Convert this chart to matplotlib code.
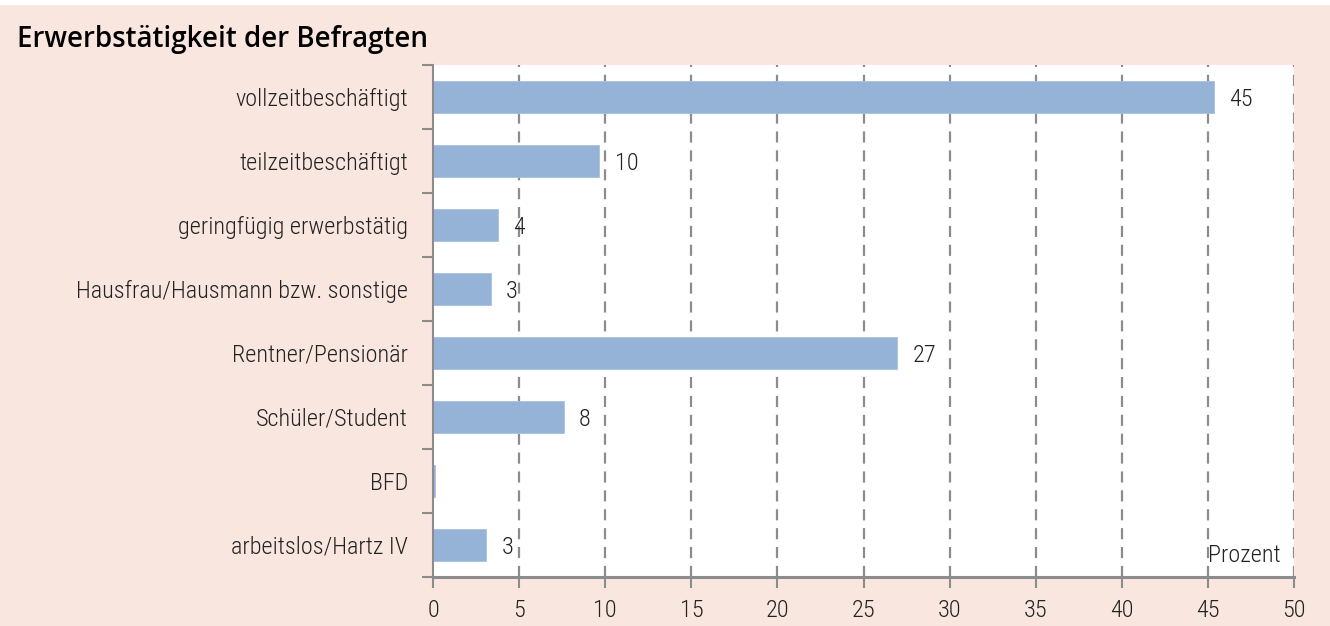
import matplotlib
matplotlib.use('Agg')
import matplotlib.pyplot as plt
from matplotlib import font_manager
from matplotlib.ticker import MultipleLocator, FixedLocator

# Daten
kategorien = ['vollzeitbeschäftigt', 'teilzeitbeschäftigt', 'geringfügig erwerbstätig',
              'Hausfrau/Hausmann bzw. sonstige', 'Rentner/Pensionär', 'Schüler/Student',
              'BFD', 'arbeitslos/Hartz IV']
werte = [45.35, 9.65, 3.75, 3.35, 26.95, 7.6, 0.12, 3.1]
beschriftung = ['45', '10', '4', '3', '27', '8', '', '3']

rosa = '#F9E7DF'
balken = '#95B3D7'
grau = '#8C8C8C'
gr = 17.5  # Schriftgroesse

# schmale Schrift suchen, falls vorhanden
vorhanden = {f.name for f in font_manager.fontManager.ttflist}
schmal = [n for n in ['Liberation Sans Narrow', 'DejaVu Sans Condensed', 'Roboto Condensed',
                      'Open Sans Condensed', 'Noto Sans Condensed'] if n in vorhanden]
schrift = schmal + ['Roboto', 'DejaVu Sans']

fig = plt.figure(figsize=(13.3, 6.26), dpi=100, facecolor=rosa)
fig.patches.append(plt.Rectangle((0, 0.9936), 1, 0.01, transform=fig.transFigure,
                                 color='white', zorder=0))

ax = fig.add_axes([0.3256, 0.0783, 0.9730 - 0.3256, 0.8962 - 0.0783])
ax.set_facecolor('white')

y = list(range(len(kategorien)))
ax.barh(y, werte, height=0.5, color=balken, edgecolor='#A9C2E0', linewidth=0.6, zorder=2)

for yi, w, t in zip(y, werte, beschriftung):
    if t:
        ax.annotate(t, (w, yi), xytext=(11, 0), textcoords='offset points',
                    va='center_baseline', ha='left', fontsize=gr, family=schrift,
                    color='#222222', stretch='condensed', weight='light')

ax.set_xlim(0, 50)
ax.set_ylim(len(kategorien) - 0.5, -0.5)
ax.xaxis.set_major_locator(MultipleLocator(5))

ax.yaxis.set_major_locator(FixedLocator([i - 0.5 for i in range(len(kategorien) + 1)]))
ax.yaxis.set_minor_locator(FixedLocator(y))
ax.set_yticklabels([], minor=False)
ax.set_yticklabels(kategorien, minor=True, fontsize=gr, family=schrift, color='#222222',
                   stretch='condensed', weight='light')
ax.tick_params(axis='y', which='major', length=8, width=1.5, color=grau, direction='out')
ax.tick_params(axis='y', which='minor', length=0, pad=18)
ax.tick_params(axis='x', length=8, width=1.5, color=grau, direction='out', pad=8,
               labelsize=gr, labelcolor='#222222')
for lab in ax.get_xticklabels():
    lab.set_family(schrift)
    lab.set_stretch('condensed')
    lab.set_weight('light')

for v in range(5, 55, 5):
    ax.axvline(v, color=grau, lw=1.6, ls=(0, (5, 3.5)), zorder=1)

for s in ['top', 'right']:
    ax.spines[s].set_visible(False)
ax.spines['left'].set_color(grau)
ax.spines['left'].set_linewidth(1.5)
ax.spines['bottom'].set_color(grau)
ax.spines['bottom'].set_linewidth(2.2)

ax.text(0.984, 0.029, 'Prozent', transform=ax.transAxes, ha='right', va='baseline',
        fontsize=gr, family=schrift, color='#222222', stretch='condensed', weight='light')

fig.text(0.013, 0.914, 'Erwerbstätigkeit der Befragten', fontsize=20, fontweight='semibold',
         family=['Open Sans', 'DejaVu Sans'], color='black', va='bottom')

fig.savefig('out.png', dpi=100, facecolor=rosa)
